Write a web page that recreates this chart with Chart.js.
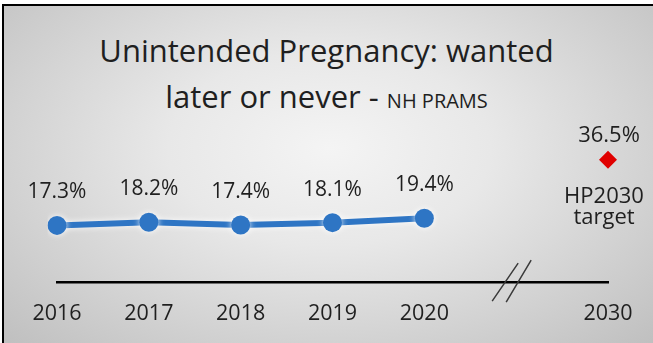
<!DOCTYPE html>
<html>
<head>
<meta charset="utf-8">
<script src="https://cdn.jsdelivr.net/npm/chart.js@4"></script>
<style>
  html, body { margin: 0; padding: 0; background: #fff; }
  #wrap { position: relative; width: 653px; height: 343px; overflow: hidden; }
  #panel {
    position: absolute; left: 2px; top: 4px; width: 651px; height: 339px;
    border-left: 2px solid #000; border-top: 2px solid #000;
    background: radial-gradient(ellipse farthest-corner at 50% 42%, #f4f4f4 0%, #e8e8e8 35%, #d2d2d2 70%, #bfbfbf 100%);
  }
  #title {
    position: absolute; left: 0; top: 27px; width: 653px;
    text-align: center; font-family: "Open Sans", sans-serif; font-size: 31px;
    line-height: 46px; color: #1f1f1f;
  }
  #title .sub { font-size: 20px; }
  canvas { position: absolute; left: 0; top: 0; }
</style>
</head>
<body>
<div id="wrap">
  <div id="panel"></div>
  <div id="title">Unintended Pregnancy: wanted<br>later or never - <span class="sub">NH PRAMS</span></div>
  <canvas id="chart" width="653" height="346"></canvas>
</div>
<script>
// survey years, with an empty slot where the axis is broken before 2030
const years        = ["2016", "2017", "2018", "2019", "2020", "", "2030"];
const pramsValues  = [17.3, 18.2, 17.4, 18.1, 19.4, null, null];
const targetValues = [null, null, null, null, null, null, 36.5];
const targetText   = ["HP2030", "target"];

const TEXT = "#1f1f1f";
const FONT = "\"Open Sans\", sans-serif";

// soft white glow behind the blue line
const glow = {
  id: "glow",
  beforeDatasetDraw(chart, args) {
    if (args.index !== 0) return;
    const ctx = chart.ctx;
    ctx.save();
    ctx.shadowColor = "rgba(255,255,255,0.9)";
    ctx.shadowBlur = 6;
  },
  afterDatasetDraw(chart, args) {
    if (args.index === 0) chart.ctx.restore();
  }
};

// percentages above the points, target caption under the diamond
const valueLabels = {
  id: "valueLabels",
  afterDatasetsDraw(chart) {
    const ctx = chart.ctx;
    ctx.save();
    ctx.fillStyle = TEXT;
    ctx.textAlign = "center";
    ctx.textBaseline = "alphabetic";
    ctx.font = "21px " + FONT;
    chart.getDatasetMeta(0).data.forEach((pt, i) => {
      const v = pramsValues[i];
      if (v == null) return;
      ctx.fillText(v.toFixed(1) + "%", pt.x, pt.y - 27);
    });
    ctx.font = "22px " + FONT;
    chart.getDatasetMeta(1).data.forEach((pt, i) => {
      const v = targetValues[i];
      if (v == null) return;
      ctx.fillText(v.toFixed(1) + "%", pt.x + 1, pt.y - 18);
      ctx.fillText(targetText[0], pt.x - 4, pt.y + 43);
      ctx.fillText(targetText[1], pt.x - 4, pt.y + 64);
    });
    ctx.restore();
  }
};

// "//" break marks on the axis in the gap slot
const axisBreak = {
  id: "axisBreak",
  afterDraw(chart) {
    const ctx = chart.ctx;
    const x = chart.scales.x.getPixelForTick(5);
    const y = chart.chartArea.bottom;
    ctx.save();
    ctx.strokeStyle = "#3a3a3a";
    ctx.lineWidth = 1.5;
    ctx.beginPath();
    ctx.moveTo(x - 24, y + 19); ctx.lineTo(x + 2, y - 19);
    ctx.moveTo(x - 10, y + 20); ctx.lineTo(x + 15, y - 22);
    ctx.stroke();
    ctx.restore();
  }
};

new Chart(document.getElementById("chart"), {
  type: "line",
  data: {
    labels: years,
    datasets: [{
      label: "NH PRAMS",
      data: pramsValues,
      borderColor: "#2e75c4",
      backgroundColor: "#2e75c4",
      borderWidth: 6,
      pointRadius: 9.5,
      pointBorderWidth: 0,
      pointBackgroundColor: "#2e75c4",
      tension: 0,
      spanGaps: false
    }, {
      label: "HP2030 target",
      data: targetValues,
      showLine: false,
      pointStyle: "rectRot",
      pointRadius: 9,
      pointBorderWidth: 0,
      pointBackgroundColor: "#e00000"
    }]
  },
  options: {
    responsive: false,
    animation: false,
    devicePixelRatio: 1,
    layout: { padding: { top: 146, left: 57, right: 45, bottom: 0 } },
    plugins: {
      legend: { display: false },
      title: { display: false },
      tooltip: { enabled: false }
    },
    scales: {
      x: {
        offset: false,
        grid: { display: false, drawTicks: false },
        border: { display: true, color: "#000", width: 2.5 },
        ticks: { color: TEXT, font: { family: FONT, size: 21.5 }, padding: 19, maxRotation: 0, autoSkip: false }
      },
      y: { display: false, min: 0.7, max: 40.5 }
    }
  },
  plugins: [glow, valueLabels, axisBreak]
});
</script>
</body>
</html>
